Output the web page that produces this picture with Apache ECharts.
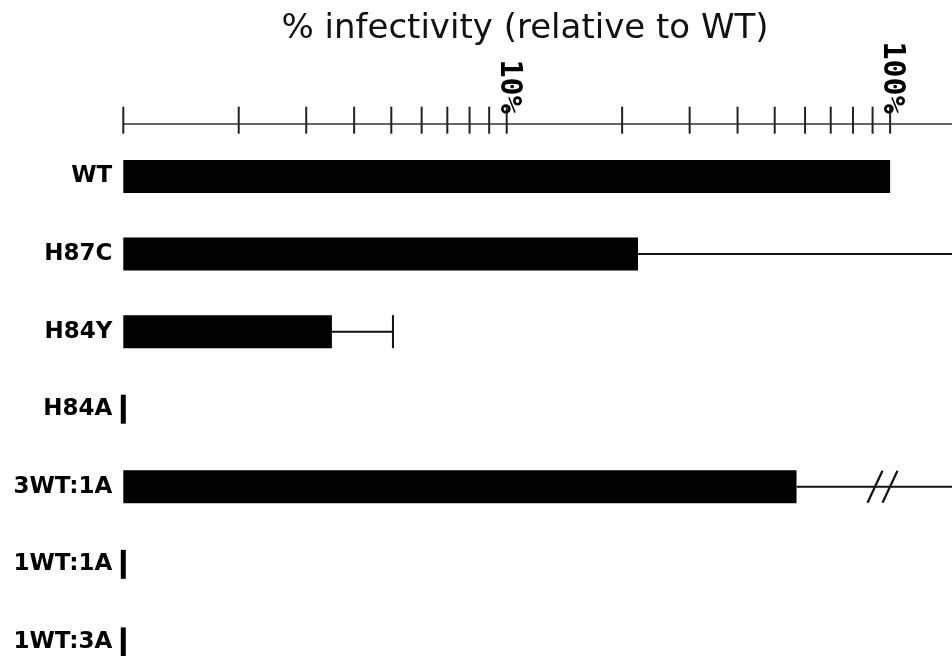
<!DOCTYPE html>
<html>
<head>
<meta charset="utf-8">
<style>
  html, body { margin: 0; padding: 0; background: #fff; overflow: hidden; }
  #chart { width: 952px; height: 700px; }
</style>
<script src="https://cdn.jsdelivr.net/npm/echarts@6/dist/echarts.min.js"></script>
</head>
<body>
<div id="chart"></div>
<script>
// ---- data ----
var categories = ['WT', 'H87C', 'H84Y', 'H84A', '3WT:1A', '1WT:1A', '1WT:3A'];
var infectivity = [100, 22, 3.5, null, 57, null, null];          // % of WT
var errorUpper = [null, 160, 5.05, null, 160, null, null];        // upper error bound (%), off-scale where >max
var errorBreak = [false, false, false, false, true, false, false]; // axis-break marks on error line
var belowDetection = [null, null, null, 1, null, 1, 1];          // not detected: marker at detection limit (1%)
var tickValues = [1, 2, 3, 4, 5, 6, 7, 8, 9, 10, 20, 30, 40, 50, 60, 70, 80, 90, 100];
var tickLabelValues = [10, 100];
var tickLabels = ['10%', '100%'];
var axisTitle = '% infectivity (relative to WT)';

// ---- build ----
var AXIS_OFFSET = 14;
var barData = infectivity.map(function (v, i) { return [v, i]; }).filter(function (d) { return d[0] != null; });
var errData = [];
infectivity.forEach(function (v, i) {
  if (v != null && errorUpper[i] != null) errData.push([i, v, errorUpper[i], errorBreak[i] ? 1 : 0]);
});
var ndData = [];
belowDetection.forEach(function (v, i) { if (v != null) ndData.push([v, i]); });
var tickData = tickValues.map(function (v) { return [v, 0]; });
var labelData = tickLabelValues.map(function (v, i) { return [v, 0, i]; });

var chart = echarts.init(document.getElementById('chart'), null, { renderer: 'canvas' });
chart.setOption({
  animation: false,
  backgroundColor: '#ffffff',
  title: {
    text: axisTitle,
    left: 520,
    top: 7,
    textAlign: 'center',
    textStyle: { fontFamily: 'DejaVu Sans', fontSize: 34, fontWeight: 'normal', color: '#111' }
  },
  grid: { left: 123.3, right: 0, top: 137.7, height: 543, containLabel: false },
  xAxis: {
    type: 'log',
    logBase: 10,
    min: 1,
    max: 145,
    position: 'top',
    offset: AXIS_OFFSET,
    axisLine: { show: true, lineStyle: { color: '#333', width: 1.5 } },
    axisTick: { show: false },
    axisLabel: { show: false },
    splitLine: { show: false },
    minorTick: { show: false }
  },
  yAxis: {
    type: 'category',
    data: categories,
    inverse: true,
    axisLine: { show: false },
    axisTick: { show: false },
    splitLine: { show: false },
    axisLabel: {
      margin: 11,
      fontFamily: 'DejaVu Sans',
      fontWeight: 'bold',
      fontSize: 23,
      color: '#000'
    }
  },
  series: [
    {
      type: 'bar',
      data: barData,
      encode: { x: 0, y: 1 },
      barWidth: 33,
      itemStyle: { color: '#000' },
      silent: true
    },
    {
      type: 'scatter',
      data: ndData,
      encode: { x: 0, y: 1 },
      symbol: 'rect',
      symbolSize: [5, 29],
      itemStyle: { color: '#000', opacity: 1 },
      silent: true
    },
    {
      type: 'custom',
      data: errData,
      encode: { x: [1, 2], y: 0 },
      clip: false,
      silent: true,
      renderItem: function (params, api) {
        var cs = params.coordSys;
        var idx = api.value(0);
        var p0 = api.coord([api.value(1), idx]);
        var p1 = api.coord([api.value(2), idx]);
        var right = cs.x + cs.width;
        var clipped = p1[0] > right;
        var x1 = clipped ? right : p1[0];
        var children = [{
          type: 'line',
          shape: { x1: p0[0], y1: p0[1], x2: x1, y2: p0[1] },
          style: { stroke: '#111', lineWidth: 2 }
        }];
        if (!clipped) {
          children.push({
            type: 'line',
            shape: { x1: x1, y1: p0[1] - 16.5, x2: x1, y2: p0[1] + 16.5 },
            style: { stroke: '#111', lineWidth: 2 }
          });
        }
        if (api.value(3) === 1) {
          var bx = right - 77;
          [0, 15].forEach(function (dx) {
            children.push({
              type: 'line',
              shape: { x1: bx - 7.5 + dx, y1: p0[1] + 16, x2: bx + 7.5 + dx, y2: p0[1] - 16 },
              style: { stroke: '#111', lineWidth: 2.2 }
            });
          });
        }
        return { type: 'group', children: children };
      }
    },
    {
      type: 'custom',
      data: tickData,
      encode: { x: 0 },
      clip: false,
      silent: true,
      renderItem: function (params, api) {
        var cs = params.coordSys;
        var x = api.coord([api.value(0), 0])[0];
        var axisY = cs.y - AXIS_OFFSET;
        return {
          type: 'line',
          shape: { x1: x, y1: axisY - 17, x2: x, y2: axisY + 10 },
          style: { stroke: '#222', lineWidth: 2 }
        };
      }
    },
    {
      type: 'custom',
      data: labelData,
      encode: { x: 0 },
      clip: false,
      silent: true,
      renderItem: function (params, api) {
        var cs = params.coordSys;
        var x = api.coord([api.value(0), 0])[0];
        var axisY = cs.y - AXIS_OFFSET;
        return {
          type: 'text',
          x: x + 2,
          y: axisY - 10,
          rotation: -Math.PI / 2,
          style: {
            text: tickLabels[api.value(2)],
            font: 'bold 30px "DejaVu Sans Mono"',
            align: 'right',
            verticalAlign: 'middle',
            fill: '#000'
          }
        };
      }
    }
  ]
});
</script>
</body>
</html>
